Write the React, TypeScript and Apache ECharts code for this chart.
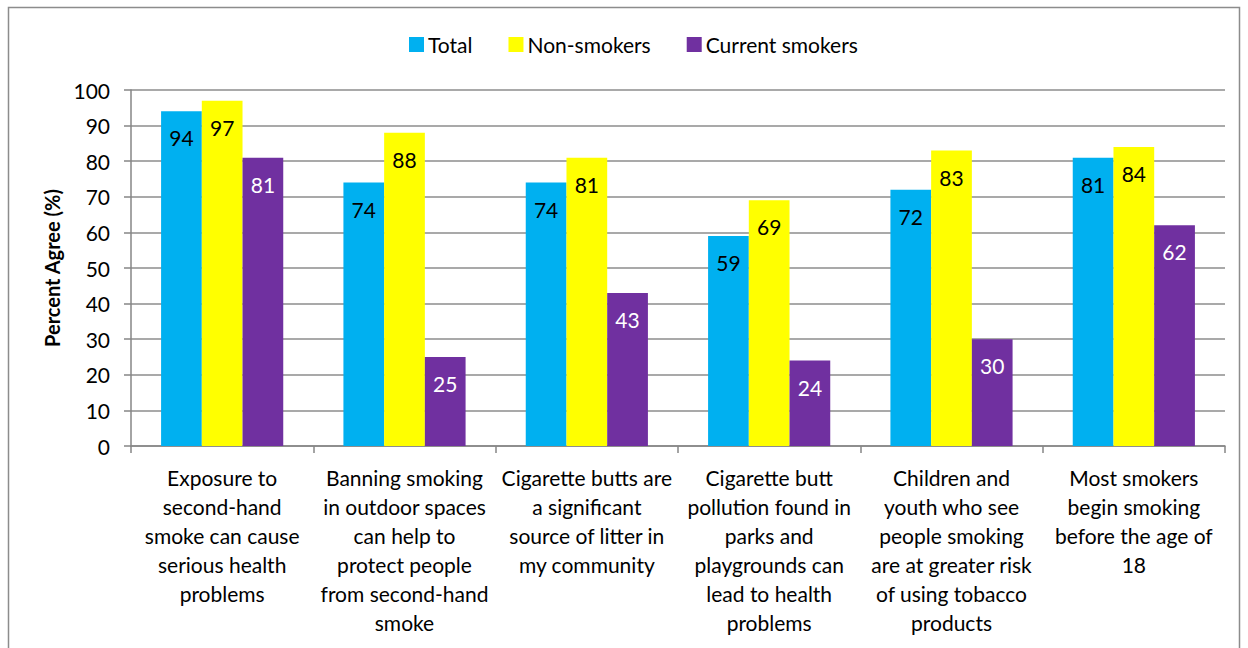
import React, { useEffect, useRef } from "react";
import * as echarts from "echarts";

const categories = [
  "Exposure to\nsecond-hand\nsmoke can cause\nserious health\nproblems",
  "Banning smoking\nin outdoor spaces\ncan help to\nprotect people\nfrom second-hand\nsmoke",
  "Cigarette butts are\na significant\nsource of litter in\nmy community",
  "Cigarette butt\npollution found in\nparks and\nplaygrounds can\nlead to health\nproblems",
  "Children and\nyouth who see\npeople smoking\nare at greater risk\nof using tobacco\nproducts",
  "Most smokers\nbegin smoking\nbefore the age of\n18",
];
const total = [94, 74, 74, 59, 72, 81];
const nonSmokers = [97, 88, 81, 69, 83, 84];
const currentSmokers = [81, 25, 43, 24, 30, 62];
const yTicks = { min: 0, max: 100, interval: 10 };

const FONT = "Lato, 'Open Sans', sans-serif";

export default function App() {
  const ref = useRef<HTMLDivElement>(null);
  useEffect(() => {
    document.body.style.margin = "0";
    const chart = echarts.init(ref.current!, null, { renderer: "svg" });
    const label = (color: string) => ({
      show: true,
      position: "insideTop",
      distance: 16,
      color,
      fontSize: 21,
      fontFamily: FONT,
    });
    chart.setOption({
      animation: false,
      textStyle: { fontFamily: FONT },
      graphic: [
        {
          type: "rect",
          shape: { x: 8.5, y: 7.5, width: 1231, height: 700 },
          style: { fill: "none", stroke: "#8c8c8c", lineWidth: 1.5 },
          silent: true,
        },
      ],
      legend: {
        top: 29,
        left: 404,
        itemWidth: 15,
        itemHeight: 15,
        itemGap: 36,
        icon: "rect",
        textStyle: { fontSize: 21, color: "#000", fontFamily: FONT, padding: [0, 0, 0, -1] },
        data: ["Total", "Non-smokers", "Current smokers"],
      },
      grid: { left: 131, right: 23, top: 90, bottom: 202 },
      xAxis: {
        type: "category",
        data: categories,
        axisLine: { lineStyle: { color: "#868686", width: 1.5 } },
        axisTick: { show: true, length: 7, lineStyle: { color: "#868686", width: 1.5 } },
        axisLabel: {
          interval: 0,
          margin: 17,
          fontSize: 21,
          lineHeight: 29,
          color: "#000",
          fontFamily: FONT,
        },
      },
      yAxis: {
        type: "value",
        min: yTicks.min,
        max: yTicks.max,
        interval: yTicks.interval,
        name: "Percent Agree (%)",
        nameLocation: "middle",
        nameGap: 69,
        nameTextStyle: { fontSize: 20, fontWeight: "bold", color: "#000", fontFamily: FONT },
        axisLine: { show: true, lineStyle: { color: "#868686", width: 1.5 } },
        axisTick: { show: true, length: 7, lineStyle: { color: "#868686", width: 1.5 } },
        axisLabel: { margin: 21, fontSize: 21, color: "#000", fontFamily: FONT },
        splitLine: { lineStyle: { color: "#8c8c8c", width: 1.5 } },
      },
      series: [
        {
          name: "Total",
          type: "bar",
          data: total,
          barGap: "0%",
          barCategoryGap: "33%",
          itemStyle: { color: "#00B0F0" },
          label: label("#000"),
        },
        {
          name: "Non-smokers",
          type: "bar",
          data: nonSmokers,
          itemStyle: { color: "#FFFF00" },
          label: label("#000"),
        },
        {
          name: "Current smokers",
          type: "bar",
          data: currentSmokers,
          itemStyle: { color: "#7030A0" },
          label: label("#fff"),
        },
      ],
    });
    return () => chart.dispose();
  }, []);
  return <div ref={ref} style={{ width: 1248, height: 648 }} />;
}
